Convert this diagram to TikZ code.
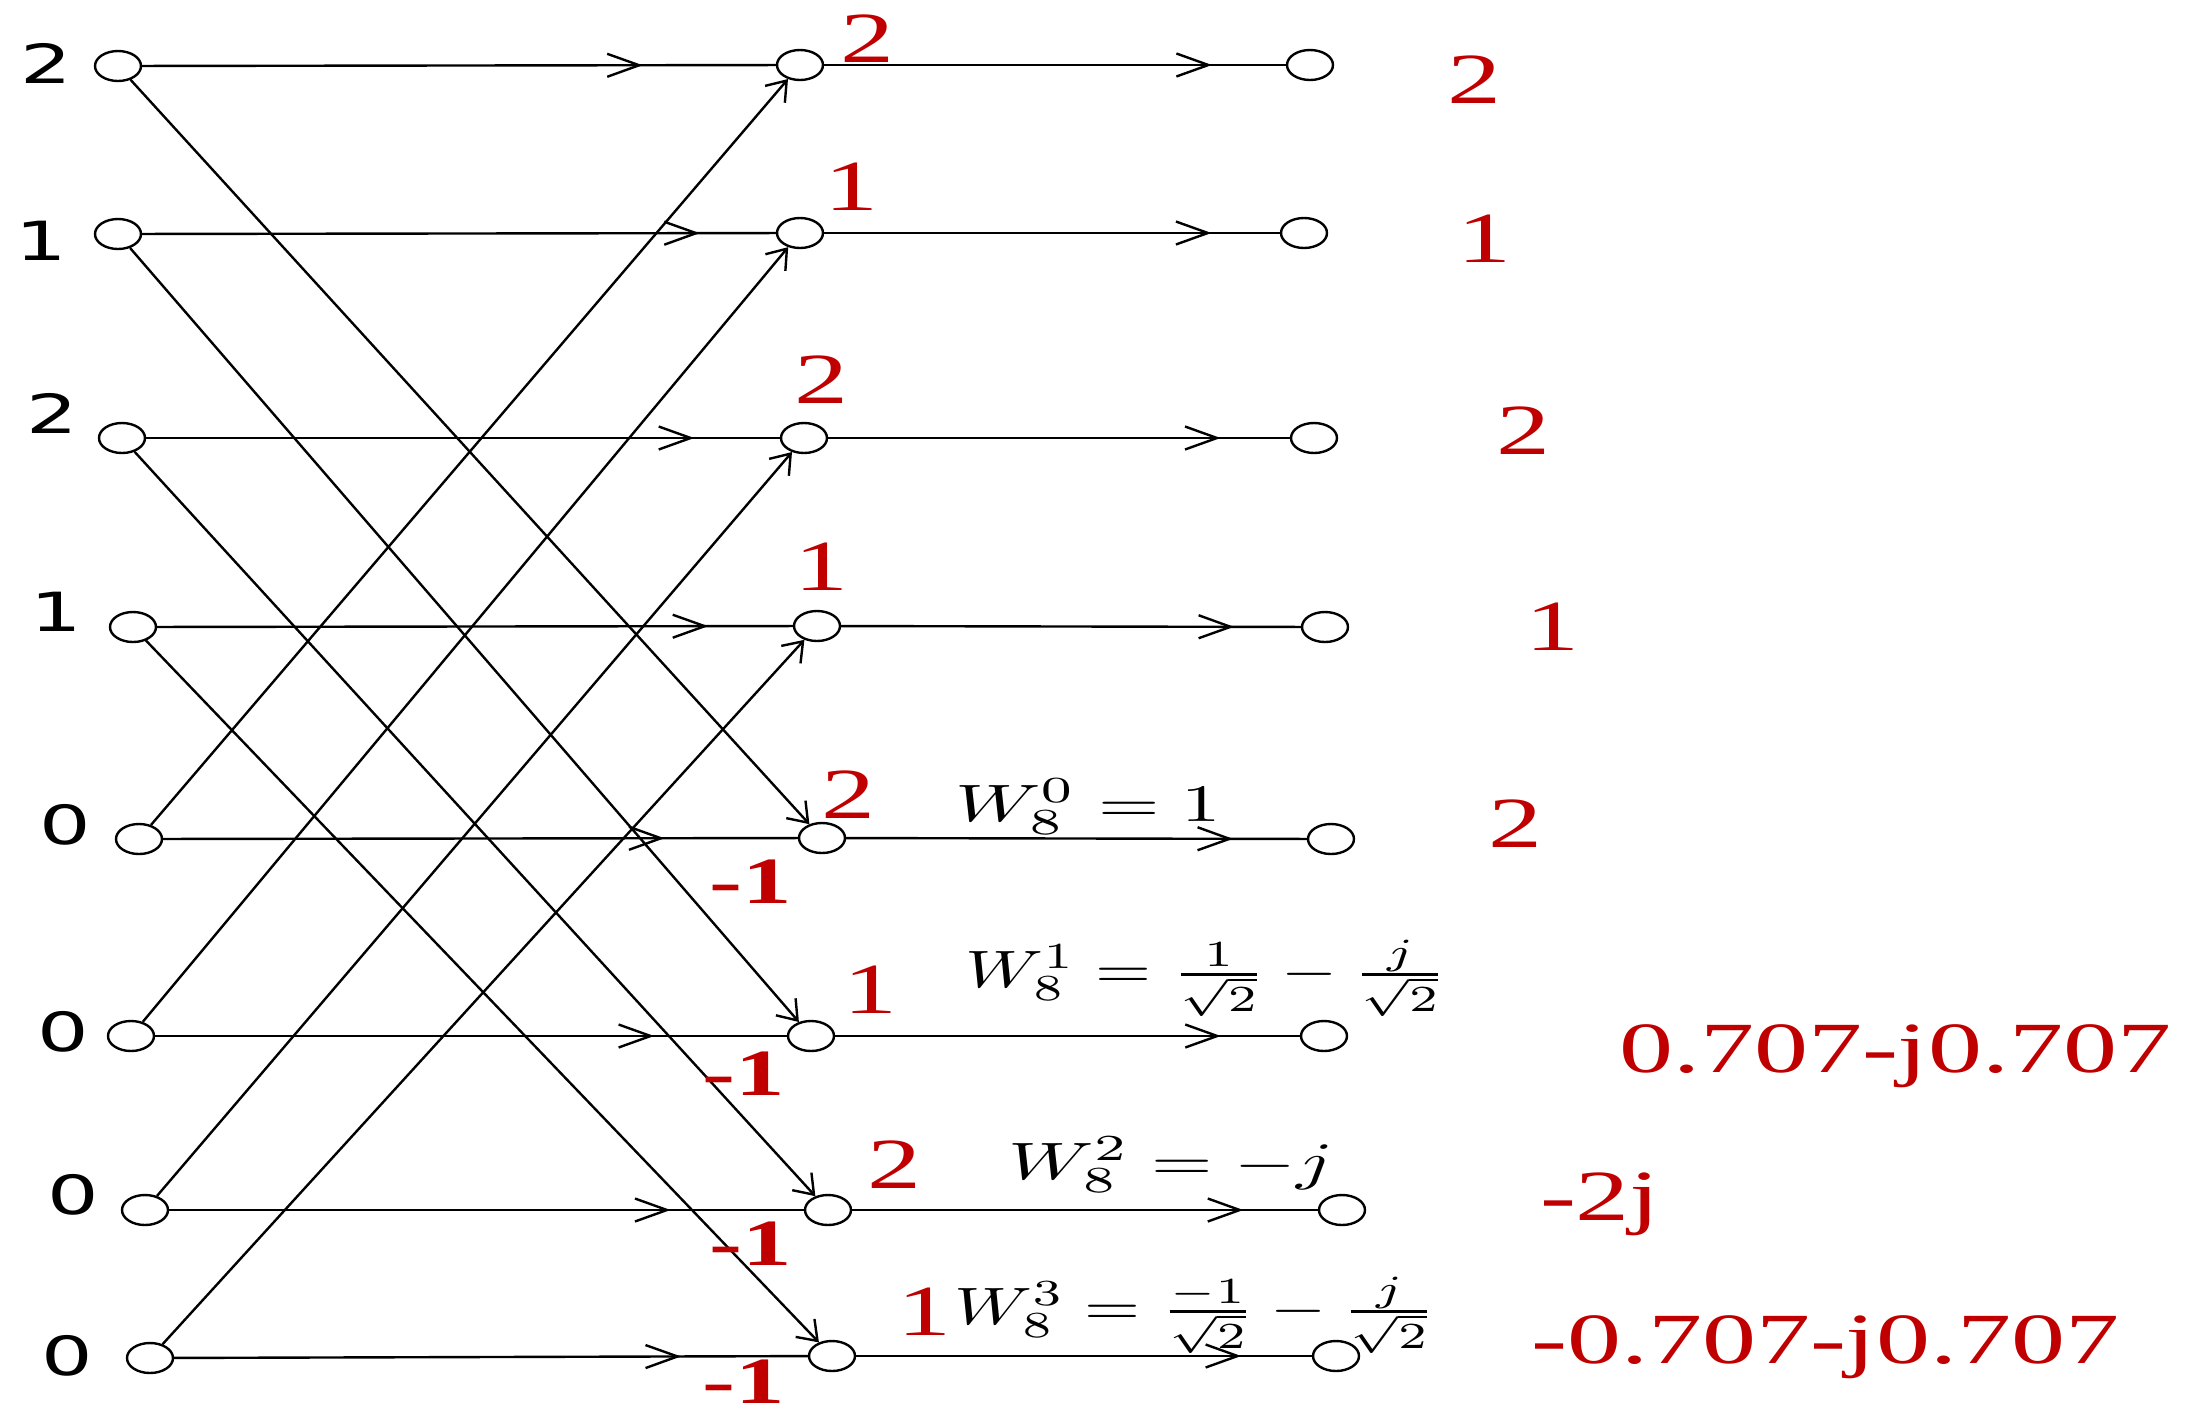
\documentclass[tikz,border=0pt]{standalone}
\usepackage{fontspec}
\usepackage{graphicx}
\usetikzlibrary{shapes.geometric,arrows.meta,decorations.markings}
\newfontfamily\lblsans{DejaVu Sans}
\newfontfamily\lblserif{Liberation Serif}
\definecolor{labred}{RGB}{192,0,0}
\newcommand\hs[1]{\scalebox{1.5}[1]{#1}}
\newcommand\wm[1]{\scalebox{3.95}[2.63]{$#1$}}
\newcommand\wf[1]{\scalebox{3.6}[2.63]{$#1$}}
\tikzset{
  nd/.style={ellipse, draw, line width=1.2pt, minimum width=23pt, minimum height=15pt, inner sep=0pt},
  ln/.style={line width=1.2pt},
  midarr/.style={postaction={decorate}, decoration={markings, mark=at position #1 with {\arrow{Straight Barb[length=16pt,width=11.5pt]}}}},
  diag/.style={line width=1.2pt, -{Straight Barb[length=9pt,width=13pt]}},
  inlab/.style={font=\lblsans\fontsize{27}{30}\selectfont, inner sep=0pt},
  redlab/.style={text=labred, font=\lblserif\fontsize{36}{40}\selectfont, inner sep=0pt},
  neglab/.style={text=labred, font=\lblserif\bfseries\fontsize{33}{36}\selectfont, inner sep=0pt},
  wlab/.style={inner sep=0pt},
}
\begin{document}
\begin{tikzpicture}[x=0.5pt,y=-0.5pt]
\useasboundingbox (0,0) rectangle (2201,1414);
% left column
\node[nd] (L0) at (118,66) {};
\node[nd] (L1) at (118,234) {};
\node[nd] (L2) at (122,438) {};
\node[nd] (L3) at (133,627) {};
\node[nd] (L4) at (139,839) {};
\node[nd] (L5) at (131,1036) {};
\node[nd] (L6) at (145,1210) {};
\node[nd] (L7) at (150,1358) {};
% middle column
\node[nd] (M0) at (800,65) {};
\node[nd] (M1) at (800,233) {};
\node[nd] (M2) at (804,438) {};
\node[nd] (M3) at (817,626) {};
\node[nd] (M4) at (822,838) {};
\node[nd] (M5) at (811,1036) {};
\node[nd] (M6) at (828,1210) {};
\node[nd] (M7) at (832,1356) {};
% right column
\node[nd] (R0) at (1310,65) {};
\node[nd] (R1) at (1304,233) {};
\node[nd] (R2) at (1314,438) {};
\node[nd] (R3) at (1325,627) {};
\node[nd] (R4) at (1331,839) {};
\node[nd] (R5) at (1324,1036) {};
\node[nd] (R6) at (1342,1210) {};
\node[nd] (R7) at (1336,1356) {};
% stage 1 horizontal
\draw[ln, midarr=0.79] (L0) -- (M0);
\draw[ln, midarr=0.88] (L1) -- (M1);
\draw[ln, midarr=0.865] (L2) -- (M2);
\draw[ln, midarr=0.867] (L3) -- (M3);
\draw[ln, midarr=0.79] (L4) -- (M4);
\draw[ln, midarr=0.79] (L5) -- (M5);
\draw[ln, midarr=0.79] (L6) -- (M6);
\draw[ln, midarr=0.80] (L7) -- (M7);
% stage 1 diagonals
\draw[diag] (L0) -- (M4);
\draw[diag] (L1) -- (M5);
\draw[diag] (L2) -- (M6);
\draw[diag] (L3) -- (M7);
\draw[diag] (L4) -- (M0);
\draw[diag] (L5) -- (M1);
\draw[diag] (L6) -- (M2);
\draw[diag] (L7) -- (M3);
% stage 2
\draw[ln, midarr=0.84] (M0) -- (R0);
\draw[ln, midarr=0.85] (M1) -- (R1);
\draw[ln, midarr=0.85] (M2) -- (R2);
\draw[ln, midarr=0.855] (M3) -- (R3);
\draw[ln, midarr=0.84] (M4) -- (R4);
\draw[ln, midarr=0.83] (M5) -- (R5);
\draw[ln, midarr=0.84] (M6) -- (R6);
\draw[ln, midarr=0.845] (M7) -- (R7);
% input labels
\node[inlab] (il0) at (46,63) {\hs{2}};
\node[inlab] (il1) at (41,241) {\hs{1}};
\node[inlab] (il2) at (52,413) {\hs{2}};
\node[inlab] (il3) at (56,612) {\hs{1}};
\node[inlab] (il4) at (65,825) {\hs{0}};
\node[inlab] (il5) at (63,1032) {\hs{0}};
\node[inlab] (il6) at (73,1195) {\hs{0}};
\node[inlab] (il7) at (67,1356) {\hs{0}};
% middle red labels
\node[redlab] (mr0) at (867,39) {\hs{2}};
\node[redlab] (mr1) at (851,187) {\hs{1}};
\node[redlab] (mr2) at (821,380) {\hs{2}};
\node[redlab] (mr3) at (821,567) {\hs{1}};
\node[redlab] (mr4) at (848,795) {\hs{2}};
\node[redlab] (mr5) at (870,990) {\hs{1}};
\node[redlab] (mr6) at (894,1165) {\hs{2}};
\node[redlab] (mr7) at (924,1312) {\hs{1}};
% -1 labels
\node[neglab] (ng4) at (751,882) {\hs{-1}};
\node[neglab] (ng5) at (744,1074) {\hs{-1}};
\node[neglab] (ng6) at (751,1244) {\hs{-1}};
\node[neglab] (ng7) at (744,1382) {\hs{-1}};
% twiddle factors
\node[wlab] (w0) at (1088,807) {\wm{W_8^0=1}};
\node[wlab] (w1) at (1206,978) {\wf{W_8^1=\frac{1}{\sqrt{2}}-\frac{j}{\sqrt{2}}}};
\node[wlab] (w2) at (1171,1165) {\wm{W_8^2=-j}};
\node[wlab] (w3) at (1195,1315) {\wf{W_8^3=\frac{-1}{\sqrt{2}}-\frac{j}{\sqrt{2}}}};
% output labels
\node[redlab] (rr0) at (1474,80) {\hs{2}};
\node[redlab] (rr1) at (1484,239) {\hs{1}};
\node[redlab] (rr2) at (1523,431) {\hs{2}};
\node[redlab] (rr3) at (1552,627) {\hs{1}};
\node[redlab] (rr4) at (1515,824) {\hs{2}};
\node[redlab, anchor=base] (rr5) at (1895,1072) {\hs{0.707-j0.707}};
\node[redlab, anchor=base] (rr6) at (1600,1220) {\hs{-2j}};
\node[redlab, anchor=base] (rr7) at (1825,1363) {\hs{-0.707-j0.707}};
\end{tikzpicture}
\end{document}
